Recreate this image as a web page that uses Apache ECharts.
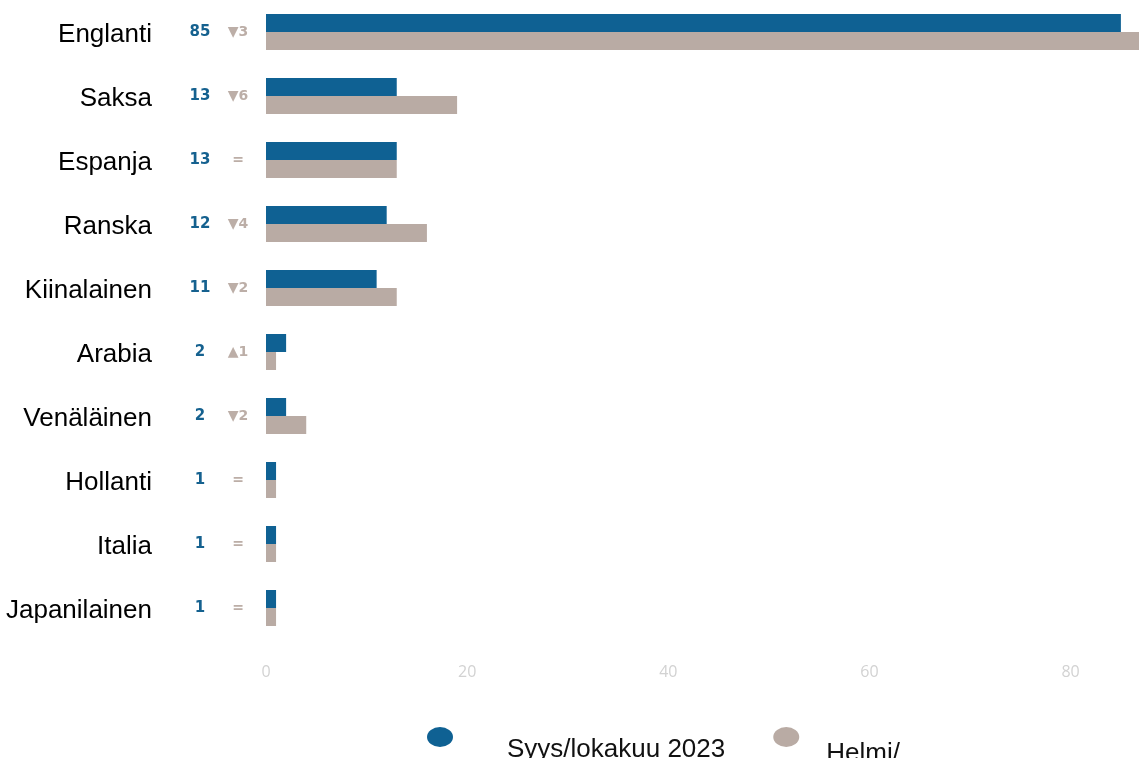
<!DOCTYPE html>
<html>
<head>
<meta charset="utf-8">
<script src="https://cdn.jsdelivr.net/npm/echarts@6/dist/echarts.min.js"></script>
<style>
html,body{margin:0;padding:0;background:#fff;}
#kielet{width:1139px;height:758px;}
</style>
</head>
<body>
<div id="kielet"></div>
<script>
// kategoriat ja arvot
var kielet = ['Englanti','Saksa','Espanja','Ranska','Kiinalainen','Arabia','Venäläinen','Hollanti','Italia','Japanilainen'];
var syysLoka = [85,13,13,12,11,2,2,1,1,1];
var helmi = [88,19,13,16,13,1,4,1,1,1];
var muutos = ['▼3','▼6','=','▼4','▼2','▲1','▼2','=','=','='];
var sarjaNimet = ['Syys/lokakuu 2023','Helmi/'];

var myChartKielet = echarts.init(document.getElementById('kielet'));
var myChartKieletOption = {
	animation: false,
	grid: {
		left: 266,
		right: 0,
		top: 0,
		height: 640,
		outerBoundsMode: 'none'
	},
	legend: {
		data: sarjaNimet,
		left: 422,
		top: 722,
		icon: 'path://M13,0A13,10 0 1,1 13,20A13,10 0 1,1 13,0Z',
		itemWidth: 26,
		itemHeight: 20,
		itemGap: 48,
		formatter: function (nimi) {
			return nimi == sarjaNimet[0] ? '{a|' + nimi + '}' : '{b|' + nimi + '}';
		},
		textStyle: {
			fontFamily: 'Liberation Sans, Arial',
			fontSize: 26,
			color: '#111',
			rich: {
				a: {
					fontFamily: 'Liberation Sans, Arial',
					fontSize: 26,
					color: '#111',
					padding: [25, 0, 0, 49]
				},
				b: {
					fontFamily: 'Liberation Sans, Arial',
					fontSize: 26,
					color: '#111',
					padding: [33, 0, 0, 22]
				}
			}
		}
	},
	xAxis: {
		type: 'value',
		min: 0,
		max: 86.8,
		interval: 20,
		splitLine: {show: false},
		axisLine: {show: false},
		axisTick: {show: false},
		axisLabel: {
			showMaxLabel: false,
			margin: 24,
			color: '#d2d2d2',
			fontSize: 16,
			fontFamily: 'Open Sans'
		}
	},
	yAxis: {
		type: 'category',
		inverse: true,
		data: kielet,
		axisLine: {show: false},
		axisTick: {show: false},
		axisLabel: {
			margin: 8,
			formatter: function (nimi, i) {
				return '{n|' + nimi + '}{v|' + syysLoka[i] + '}{c|' + muutos[i] + '}';
			},
			rich: {
				n: {
					padding: [6, 30, 0, 0],
					fontFamily: 'Liberation Sans, Arial',
					fontSize: 26,
					color: '#000'
				},
				v: {
					width: 36,
					align: 'center',
					fontFamily: 'DejaVu Sans',
					fontWeight: 'bold',
					fontSize: 15,
					color: '#15618f'
				},
				c: {
					width: 40,
					align: 'center',
					fontFamily: 'DejaVu Sans',
					fontWeight: 'bold',
					fontSize: 14,
					color: '#bcaea7'
				}
			}
		}
	},
	series: [
		{
			name: sarjaNimet[0],
			type: 'bar',
			data: syysLoka,
			barWidth: 18,
			barGap: '0%',
			itemStyle: {color: '#0f6193'}
		},
		{
			name: sarjaNimet[1],
			type: 'bar',
			data: helmi,
			barWidth: 18,
			itemStyle: {color: '#b9aba4'}
		}
	]
};

myChartKielet.setOption(myChartKieletOption);
window.onresize = myChartKielet.resize;
</script>
</body>
</html>
